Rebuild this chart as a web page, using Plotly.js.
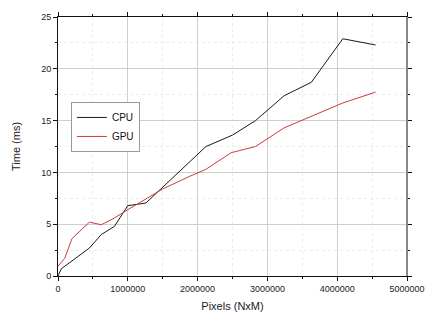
<!DOCTYPE html>
<html>
<head>
<meta charset="utf-8">
<script src="https://cdn.plot.ly/plotly-3.0.1.min.js"></script>
<style>html,body{margin:0;padding:0;background:#fff;}#chart{width:427px;height:315px;}</style>
</head>
<body>
<div id="chart"></div>
<script>
var cpuX = [0, 48000, 450000, 620000, 810000, 1000000, 1120000, 1260000, 2120000, 2500000, 2830000, 3240000, 3630000, 4080000, 4550000];
var cpuY = [0, 0.7, 2.7, 4.0, 4.8, 6.8, 6.9, 7.05, 12.5, 13.6, 15.0, 17.4, 18.7, 22.9, 22.3];
var gpuX = [0, 96000, 200000, 450000, 620000, 810000, 1000000, 1260000, 1500000, 1880000, 2120000, 2480000, 2830000, 3240000, 3630000, 4080000, 4550000];
var gpuY = [0.95, 1.7, 3.6, 5.2, 4.95, 5.6, 6.4, 7.4, 8.4, 9.6, 10.3, 11.9, 12.5, 14.3, 15.4, 16.7, 17.75];

var traces = [
  {x: cpuX, y: cpuY, name: 'CPU', mode: 'lines', line: {color: '#1a1a1a', width: 1}},
  {x: gpuX, y: gpuY, name: 'GPU', mode: 'lines', line: {color: '#cc3a3f', width: 1}}
];

var font = {family: 'Liberation Sans, Arial, sans-serif', color: '#222'};
var layout = {
  width: 427, height: 315,
  margin: {l: 58, r: 20, t: 17, b: 39},
  paper_bgcolor: '#fff', plot_bgcolor: '#fff',
  font: font,
  showlegend: true,
  legend: {x: 0.037, y: 0.672, xanchor: 'left', yanchor: 'top', bgcolor: '#fff',
           bordercolor: '#999', borderwidth: 1, font: {size: 10, family: font.family, color: '#111'},
           tracegroupgap: 0, itemwidth: 30},
  xaxis: {
    range: [0, 5000000], dtick: 1000000, tick0: 0, tickformat: 'd',
    showline: true, linecolor: '#111', linewidth: 1, mirror: 'ticks',
    ticks: 'outside', ticklen: 4, tickcolor: '#111',
    showgrid: true, gridcolor: '#cfcfcf', gridwidth: 1, zeroline: false,
    tickfont: {size: 9, family: font.family, color: '#222'},
    minor: {dtick: 500000, ticks: 'outside', ticklen: 2, tickcolor: '#111', showgrid: true, gridcolor: '#ececec', griddash: 'dot'},
    title: {text: 'Pixels (NxM)', font: {size: 11, family: font.family, color: '#222'}, standoff: 9}
  },
  yaxis: {
    range: [0, 25], dtick: 5, tick0: 0,
    showline: true, linecolor: '#111', linewidth: 1, mirror: 'ticks',
    ticks: 'outside', ticklen: 4, tickcolor: '#111',
    showgrid: true, gridcolor: '#cfcfcf', gridwidth: 1, zeroline: false,
    tickfont: {size: 9, family: font.family, color: '#222'},
    minor: {dtick: 2.5, ticks: 'outside', ticklen: 2, tickcolor: '#111', showgrid: true, gridcolor: '#ececec', griddash: 'dot'},
    title: {text: 'Time (ms)', font: {size: 11, family: font.family, color: '#222'}, standoff: 18}
  },
  shapes: [
    {type: 'line', xref: 'paper', yref: 'paper', x0: 1, x1: 1, y0: 0, y1: 1, line: {color: '#888', width: 2}}
  ]
};

Plotly.newPlot('chart', traces, layout, {displayModeBar: false, staticPlot: true});
</script>
</body>
</html>
